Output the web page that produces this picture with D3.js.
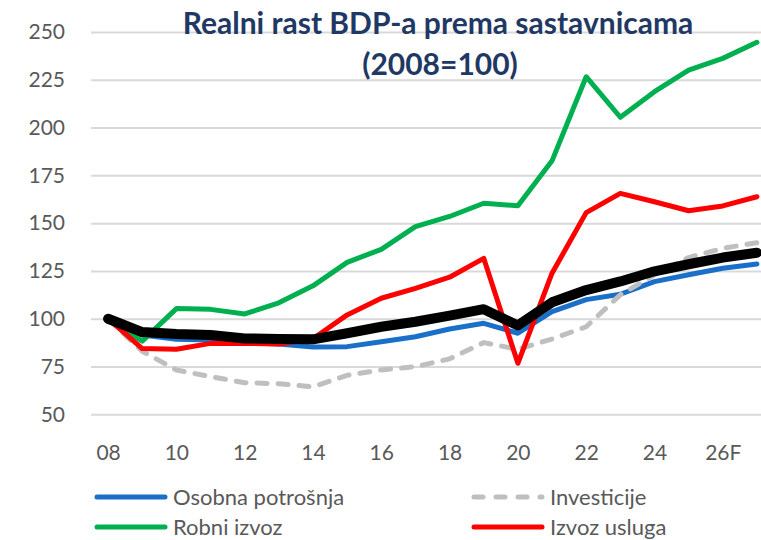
<!DOCTYPE html>
<html>
<head>
<meta charset="utf-8">
<script src="https://cdn.jsdelivr.net/npm/d3@7"></script>
<style>
  body { margin: 0; background: #fff; }
  svg { display: block; font-family: Lato, "Liberation Sans", sans-serif; }
</style>
</head>
<body>
<svg id="chart" width="761" height="540"></svg>
<script>
// godine 2008-2027, zadnje su prognoze
const years = d3.range(2008, 2028);
const xTickYears = [2008, 2010, 2012, 2014, 2016, 2018, 2020, 2022, 2024, 2026];
const xTickLabels = ['08', '10', '12', '14', '16', '18', '20', '22', '24', '26F'];
const yTicks = [50, 75, 100, 125, 150, 175, 200, 225, 250];

const osobnaPotrosnja = [100, 91.5, 89.3, 88.9, 87.5, 86.8, 85.2, 85.4, 88, 90.6, 94.6, 97.6, 92.4, 103.7, 110, 112.8, 119.4, 123, 126.4, 128.6];
const investicije = [100, 83, 73.2, 69.7, 66.5, 66, 64.4, 70.4, 73.2, 74.9, 79, 87.5, 84, 89.4, 95.8, 112.5, 123, 132, 136.8, 139.8];
const robniIzvoz = [100, 88.3, 105.3, 104.9, 102.5, 108.3, 117.2, 129.5, 136.3, 148.2, 153.5, 160.4, 159.1, 182.6, 226.6, 205.4, 218.8, 230.1, 236.2, 244.6];
const izvozUsluga = [100, 84.4, 84, 87.1, 87.1, 86.8, 89.5, 102, 110.7, 115.9, 121.7, 131.6, 76.7, 123.8, 155.5, 165.6, 161.2, 156.5, 159, 163.8];
const bdp = [100, 93, 92, 91.5, 89.7, 89.4, 89.2, 92.4, 95.8, 98.4, 101.6, 105, 96.5, 108.6, 115, 119.5, 124.8, 128.5, 132, 134.5];

const svg = d3.select('#chart');
const plotLeft = 91;
const plotRight = 774; // plot area runs past the window edge

const x = d3.scaleLinear().domain([2007.5, 2027.5]).range([plotLeft, plotRight]);
const y = d3.scaleLinear().domain([50, 250]).range([414.3, 32]);

// grid
svg.append('g')
  .attr('transform', `translate(${plotLeft},0)`)
  .call(d3.axisRight(y).tickValues(yTicks).tickSize(plotRight - plotLeft).tickFormat(''))
  .call(g => g.select('.domain').remove())
  .call(g => g.selectAll('line').attr('stroke', '#d9d9d9').attr('stroke-width', 2));

// y axis labels
svg.append('g')
  .attr('transform', `translate(${plotLeft},0)`)
  .call(d3.axisLeft(y).tickValues(yTicks).tickSize(0).tickPadding(26))
  .call(g => g.select('.domain').remove())
  .call(g => g.selectAll('text')
    .attr('fill', '#595959')
    .style('font-size', '21px')
    .style('font-family', 'Lato, sans-serif'));

// x axis labels
svg.append('g')
  .attr('transform', 'translate(0,435)')
  .call(d3.axisBottom(x).tickValues(xTickYears).tickSize(0).tickPadding(10)
    .tickFormat((d, i) => xTickLabels[i]))
  .call(g => g.select('.domain').remove())
  .call(g => g.selectAll('text')
    .attr('fill', '#595959')
    .style('font-size', '21px')
    .style('font-family', 'Lato, sans-serif'));

const line = d3.line()
  .x((d, i) => x(years[i]))
  .y(d => y(d));

const series = [
  { name: 'Osobna potrošnja', values: osobnaPotrosnja, color: '#1a70c8', width: 5, dash: null },
  { name: 'Investicije', values: investicije, color: '#bfbfbf', width: 5, dash: '10,11' },
  { name: 'Robni izvoz', values: robniIzvoz, color: '#00b050', width: 5, dash: null },
  { name: 'Izvoz usluga', values: izvozUsluga, color: '#ff0000', width: 5, dash: null },
  { name: 'BDP', values: bdp, color: '#000000', width: 10, dash: null },
];

svg.append('g')
  .selectAll('path')
  .data(series)
  .join('path')
  .attr('d', d => line(d.values))
  .attr('fill', 'none')
  .attr('stroke', d => d.color)
  .attr('stroke-width', d => d.width)
  .attr('stroke-linejoin', 'round')
  .attr('stroke-linecap', 'round')
  .attr('stroke-dasharray', d => d.dash);

// title
const title = svg.append('text')
  .attr('text-anchor', 'middle')
  .attr('fill', '#1f3864')
  .style('font-size', '30px')
  .style('font-weight', 'bold');
title.append('tspan').attr('x', 438).attr('y', 34).text('Realni rast BDP-a prema sastavnicama');
title.append('tspan').attr('x', 440).attr('y', 75).text('(2008=100)');

// legend
const legendItems = [
  { s: series[0], lx: 95, ly: 497 },
  { s: series[1], lx: 472, ly: 497 },
  { s: series[2], lx: 95, ly: 527 },
  { s: series[3], lx: 472, ly: 527 },
];
const legend = svg.append('g')
  .selectAll('g')
  .data(legendItems)
  .join('g')
  .attr('transform', d => `translate(${d.lx},${d.ly})`);

legend.append('line')
  .attr('x1', 2).attr('x2', 70)
  .attr('stroke', d => d.s.color)
  .attr('stroke-width', 5)
  .attr('stroke-linecap', 'round')
  .attr('stroke-dasharray', d => d.s.dash ? '9,13' : null);

legend.append('text')
  .attr('x', 78)
  .attr('dy', '0.35em')
  .attr('fill', '#595959')
  .style('font-size', '22px')
  .text(d => d.s.name);
</script>
</body>
</html>
